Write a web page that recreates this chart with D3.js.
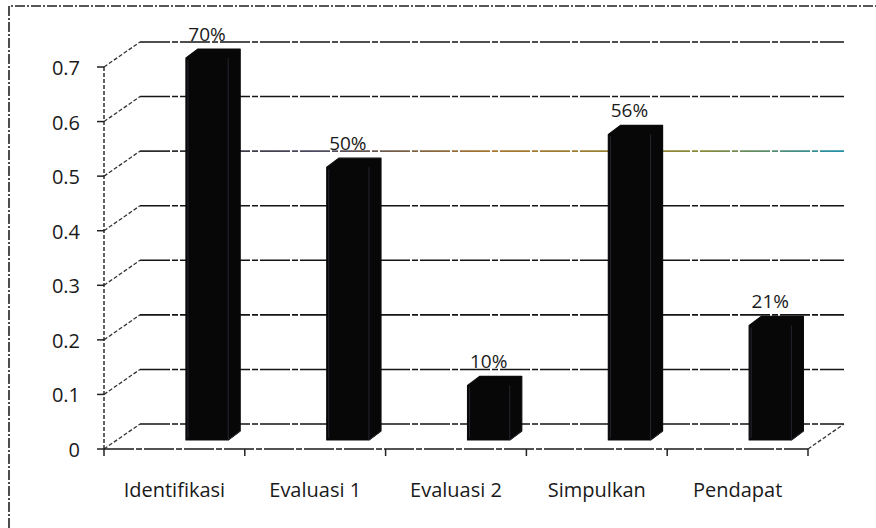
<!DOCTYPE html>
<html>
<head>
<meta charset="utf-8">
<script src="https://cdn.jsdelivr.net/npm/d3@7"></script>
<style>
  html, body { margin: 0; padding: 0; background: #fff; }
  svg { display: block; }
  text { font-family: "Open Sans", "DejaVu Sans", sans-serif; fill: #1a1a1a; }
</style>
</head>
<body>
<svg id="chart" width="876" height="528"></svg>
<script>
// Chart data
const categories = ["Identifikasi", "Evaluasi 1", "Evaluasi 2", "Simpulkan", "Pendapat"];
const values = [0.70, 0.50, 0.10, 0.56, 0.21];
const valueLabels = ["70%", "50%", "10%", "56%", "21%"];
const yTicks = [0, 0.1, 0.2, 0.3, 0.4, 0.5, 0.6, 0.7];

const svg = d3.select("#chart");
const W = 876, H = 528;

// Plot frame (front floor edge and vertical axis)
const x0 = 104, x1 = 808, yBase = 449, yTop = 67;
// Oblique offset from the front plane to the back wall
const DX = 36, DY = -25;

const x = d3.scaleBand().domain(categories).range([x0, x1]).padding(0);
const y = d3.scaleLinear().domain([0, 0.7]).range([yBase, yTop]);
const bw = x.bandwidth();

// Gradient used for the tinted mid gridline
const defs = svg.append("defs");
const grad = defs.append("linearGradient").attr("id", "midLine")
  .attr("gradientUnits", "userSpaceOnUse")
  .attr("x1", x0 + DX).attr("x2", x1 + DX).attr("y1", 0).attr("y2", 0);
[[0, "#2a2a2a"], [0.25, "#4a4a60"], [0.5, "#a8762e"], [0.8, "#8a8a3a"], [1, "#1f8fa8"]]
  .forEach(([o, c]) => grad.append("stop").attr("offset", o).attr("stop-color", c));

// Outer dashed border (top and left)
svg.append("path")
  .attr("d", `M9,${H} L9,6 L${W},6`)
  .attr("fill", "none").attr("stroke", "#222").attr("stroke-width", 1.6)
  .attr("stroke-dasharray", "10,2,2,2");

const grid = svg.append("g");

// Back-wall gridlines
grid.selectAll("line.back").data(yTicks).join("line")
  .attr("class", "back")
  .attr("x1", x0 + DX).attr("x2", x1 + DX)
  .attr("y1", d => y(d) + DY).attr("y2", d => y(d) + DY)
  .attr("stroke", d => Math.abs(d - 0.5) < 1e-9 ? "url(#midLine)" : "#151515")
  .attr("stroke-width", 1.6)
  .attr("stroke-dasharray", "30,2,6,2");

// Side-wall diagonals from the axis to the back wall
grid.selectAll("line.side").data(yTicks).join("line")
  .attr("class", "side")
  .attr("x1", x0).attr("y1", d => y(d))
  .attr("x2", x0 + DX).attr("y2", d => y(d) + DY)
  .attr("stroke", "#333").attr("stroke-width", 1.3)
  .attr("stroke-dasharray", "4,2");

// Floor right edge
grid.append("line")
  .attr("x1", x1).attr("y1", y(0)).attr("x2", x1 + DX).attr("y2", y(0) + DY)
  .attr("stroke", "#333").attr("stroke-width", 1.3).attr("stroke-dasharray", "4,2");

// Bars: front face, top and right side drawn as one dark prism silhouette
const BF = 0.582, BWF = 0.30;   // front-face offset and width as fractions of the band
const SX = 12, SY = -9;         // bar depth
const PX = 0, PY = -9;          // bar plane offset from the front floor edge
const bars = svg.append("g");
categories.forEach((c, i) => {
  const fl = x(c) + bw * BF + PX;
  const fr = fl + bw * BWF;
  const yb = y(0) + PY;
  const yt = y(values[i]) + PY;
  const pts = [[fl, yb], [fr, yb], [fr + SX, yb + SY], [fr + SX, yt + SY], [fl + SX, yt + SY], [fl, yt]];
  bars.append("path")
    .attr("d", d3.line()(pts) + "Z")
    .attr("fill", "#070707").attr("stroke", "#0b0b0b").attr("stroke-width", 1.2)
    .attr("stroke-linejoin", "round");
  // faint front-face edges
  bars.append("path")
    .attr("d", `M${fl + 2},${yb - 2} L${fl + 2},${yt + 2} M${fr},${yt} L${fr},${yb} L${fr + SX},${yb + SY}`)
    .attr("fill", "none").attr("stroke", "#262630").attr("stroke-width", 1);
  // value label
  svg.append("text")
    .attr("x", fl + (fr - fl) / 2)
    .attr("y", yt + SY - 8)
    .attr("text-anchor", "middle")
    .attr("font-size", 19)
    .text(valueLabels[i]);
});

// Y axis: dashed vertical line, ticks and labels
const yAxis = svg.append("g");
yAxis.append("line")
  .attr("x1", x0).attr("x2", x0).attr("y1", y(0)).attr("y2", y(0.7))
  .attr("stroke", "#222").attr("stroke-width", 1.4).attr("stroke-dasharray", "4,2");
yAxis.selectAll("line.tick").data(yTicks).join("line")
  .attr("class", "tick")
  .attr("x1", x0 - 7).attr("x2", x0)
  .attr("y1", d => y(d)).attr("y2", d => y(d))
  .attr("stroke", "#222").attr("stroke-width", 1.5);
yAxis.selectAll("text").data(yTicks).join("text")
  .attr("x", 80).attr("y", d => y(d) + 8)
  .attr("text-anchor", "end")
  .attr("font-size", 20)
  .text(d => d3.format("~g")(d));

// X axis: front floor edge, tick marks and category labels
const xAxis = svg.append("g");
xAxis.append("line")
  .attr("x1", x0).attr("x2", x1).attr("y1", y(0)).attr("y2", y(0))
  .attr("stroke", "#1a1a1a").attr("stroke-width", 1.6).attr("stroke-dasharray", "30,2,6,2");
const tickXs = categories.map(c => x(c)).concat([x1]);
xAxis.selectAll("line.tick").data(tickXs).join("line")
  .attr("class", "tick")
  .attr("x1", d => d).attr("x2", d => d)
  .attr("y1", y(0)).attr("y2", y(0) + 7)
  .attr("stroke", "#222").attr("stroke-width", 1.5);
xAxis.selectAll("text").data(categories).join("text")
  .attr("x", d => x(d) + bw / 2)
  .attr("y", 497)
  .attr("text-anchor", "middle")
  .attr("font-size", 20)
  .text(d => d);
</script>
</body>
</html>
